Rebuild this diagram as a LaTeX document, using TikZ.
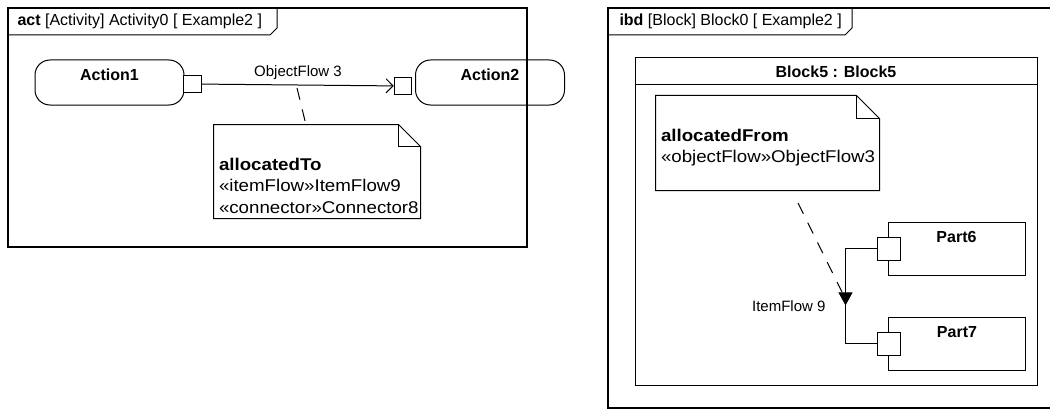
\documentclass[tikz,border=0pt]{standalone}
\usepackage{fontspec}
\setmainfont{Liberation Sans}
\newfontfamily\notefont{Liberation Sans}[FakeStretch=1.1]
\usetikzlibrary{calc,positioning,arrows,arrows.meta,decorations.markings}

\begin{document}
\begin{tikzpicture}[x=1pt,y=-1pt, line width=1pt, every node/.style={font=\fontsize{16}{21.5}\selectfont},
  act/.style={draw,rounded corners=15pt,minimum width=149pt,minimum height=45pt,text depth=16pt,font=\fontsize{16}{21.5}\selectfont\bfseries},
  part/.style={draw,minimum width=137pt,minimum height=53pt,text depth=23pt,font=\fontsize{16}{21.5}\selectfont\bfseries},
  port/.style={draw,fill=white,inner sep=0pt,minimum size=#1},
  notebox/.style={inner sep=0pt,minimum width=#1},
  txt/.style={align=left,inner sep=0pt,anchor=north west,font=\notefont\fontsize{17}{21.5}\selectfont},
  lbl/.style={inner sep=0pt,font=\fontsize{15}{18}\selectfont},
  dsh/.style={dash pattern=on 12pt off 10pt}]
\useasboundingbox (0,0) rectangle (1050,412);

% activity diagram
\draw[line width=1.1pt] (8,8) rectangle (527,247);
\draw (8,35) -- (270,35) -- (277,28) -- (277,8);
\node[anchor=west,inner sep=0pt] (h1) at (17,21) {\textbf{act} [Activity] Activity0 [ Example2 ]};

\node[act] (a1) at (109.5,82.5) {Action1};
\node[act] (a2) at (490,82.5) {Action2};
\node[port=17.5pt] (p1) at (192.5,84) {};
\node[port=17.5pt] (p2) at (403,86) {};
\draw[-{Straight Barb[length=7pt,width=14pt]}] (p1) -- (p2);
\node[lbl] (l1) at (298,73) {ObjectFlow 3};

\node[notebox=206pt,minimum height=93pt] (n1) at (317,171.5) {};
\draw (n1.north west) -- ([xshift=-22pt]n1.north east) -- ([yshift=-22pt]n1.north east)
  -- (n1.south east) -- (n1.south west) -- cycle;
\draw ([xshift=-22pt]n1.north east) |- ([yshift=-22pt]n1.north east);
\node[txt] (t1) at ([xshift=5pt,yshift=-33pt]n1.north west)
  {\textbf{allocatedTo}\\«itemFlow»ItemFlow9\\«connector»Connector8};
\coordinate (c1) at (297,88);
\coordinate (c2) at (306,125);
\draw[dsh] (c1) -- (c2);

% internal block diagram
\draw[line width=1.1pt] (1050,8) -- (608,8) -- (608,408) -- (1050,408);
\draw (608,35) -- (845,35) -- (852,28) -- (852,8);
\node[anchor=west,inner sep=0pt] (h2) at (619,21) {\textbf{ibd} [Block] Block0 [ Example2 ]};

\node[draw,minimum width=402pt,minimum height=327pt] (b5) at (836,221.5) {};
\draw ([yshift=-27pt]b5.north west) -- ([yshift=-27pt]b5.north east);
\node[font=\fontsize{16}{21.5}\selectfont\bfseries] (t2) at (836,72) {Block5 : Block5};

\node[notebox=223pt,minimum height=94pt] (n2) at (767.5,143) {};
\draw (n2.north west) -- ([xshift=-23pt]n2.north east) -- ([yshift=-23pt]n2.north east)
  -- (n2.south east) -- (n2.south west) -- cycle;
\draw ([xshift=-23pt]n2.north east) |- ([yshift=-23pt]n2.north east);
\node[txt] (t3) at ([xshift=5pt,yshift=-33pt]n2.north west)
  {\textbf{allocatedFrom}\\«objectFlow»ObjectFlow3};

\node[part] (b6) at (956.5,248.5) {Part6};
\node[part] (b7) at (957,343.5) {Part7};
\node[port=23pt] (q6) at (888.5,248.5) {};
\node[port=23pt] (q7) at (888.5,343.5) {};
\draw[decoration={markings,mark=at position 0.56 with {\arrow{Triangle[length=13pt,width=14pt]}}},
  postaction={decorate}] (q6.west) -- ++(-31,0) |- (q7.west);
\node[lbl,anchor=east] (l2) at (826,306) {ItemFlow 9};
\coordinate (d1) at (798,203);
\coordinate (d2) at (842,292);
\draw[dsh] (d1) -- (d2);
\end{tikzpicture}
\end{document}
